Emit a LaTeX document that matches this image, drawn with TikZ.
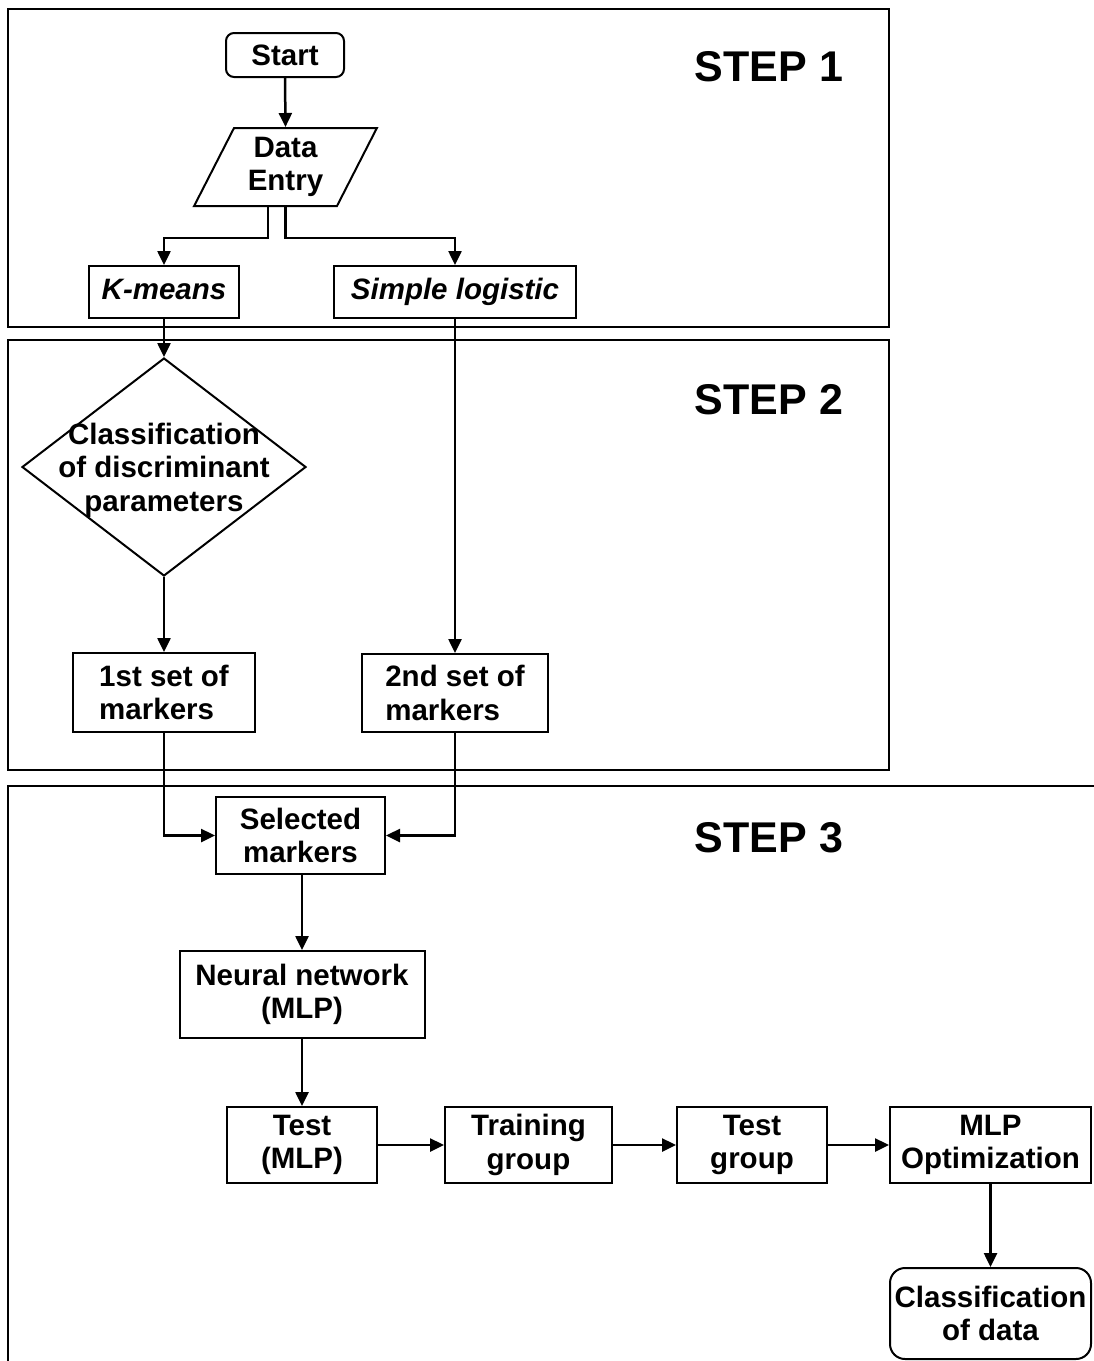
\documentclass[tikz,border=0pt]{standalone}
\usepackage{fontspec}
\setmainfont{Liberation Sans}
\usetikzlibrary{arrows.meta,shapes.geometric}
\tikzset{
  txt/.style={font=\fontsize{29.5}{33.5}\selectfont\bfseries, align=center, inner sep=0pt},
  box/.style={txt, draw, line width=2pt},
  stepbox/.style={draw, line width=2pt},
  steplabel/.style={font=\fontsize{43}{50}\selectfont\bfseries, inner sep=0pt},
  arr/.style={line width=2.5pt, -{Triangle[length=14pt,width=13pt]}},
}
\begin{document}
\begin{tikzpicture}[x=1pt,y=-1pt]
\useasboundingbox (0,0) rectangle (1094,1361);
\clip (0,0) rectangle (1094,1361);
% step frames
\draw[stepbox] (8,9) rectangle (889,327);
\draw[stepbox] (8,340) rectangle (889,770);
\draw[stepbox] (1110,786) -- (8,786) -- (8,1380);
\node[steplabel] (st1) at (769,67) {STEP 1};
\node[steplabel] (st2) at (769,400) {STEP 2};
\node[steplabel] (st3) at (769,838) {STEP 3};
% nodes
\node[box, rounded corners=8, minimum width=118, minimum height=44] (start) at (285,55) {Start};
\node[box, trapezium, trapezium left angle=64, trapezium right angle=116, trapezium stretches=true, minimum width=183, minimum height=78] (de) at (285.5,167) {Data\\Entry};
\node[box, minimum width=150, minimum height=52, text height=22, text depth=7] (km) at (164,292) {\itshape K-means};
\node[box, minimum width=242, minimum height=52, text height=22, text depth=7] (sl) at (455,292) {\itshape Simple logistic};
\node[draw, line width=2pt, diamond, minimum width=284, minimum height=218, inner sep=0pt] (dia) at (164,467) {};
\node[txt] (diat) at (164,470) {Classification\\of discriminant\\parameters};
\node[box, align=left, minimum width=182, minimum height=79] (s1) at (164,692.5) {1st set of\\markers};
\node[box, align=left, minimum width=186, minimum height=78] (s2) at (455,693) {2nd set of\\markers};
\node[box, minimum width=169, minimum height=77] (sel) at (300.5,835.5) {Selected\\markers};
\node[box, minimum width=245, minimum height=87] (nn) at (302,994.5) {Neural network\\(MLP)};
\node[box, minimum width=150, minimum height=76] (test) at (302,1145) {Test\\(MLP)};
\node[box, minimum width=167, minimum height=76] (train) at (528.5,1145) {Training\\group};
\node[box, minimum width=150, minimum height=76] (tg) at (752,1145) {Test\\group};
\node[box, minimum width=201, minimum height=76] (opt) at (990.5,1145) {MLP\\Optimization};
\node[box, rounded corners=15, minimum width=201, minimum height=91] (cls) at (990.5,1313.5) {Classification\\of data};
% connectors
\draw[arr] (start.south) -- (de.north);
\draw[arr] ([xshift=-17.5pt]de.south) -- ++(0,31) -| (km.north);
\draw[arr] (de.south) -- ++(0,31) -| (sl.north);
\draw[arr] (km.south) -- (dia.north);
\draw[arr] (dia.south) -- (s1.north);
\draw[arr] (sl.south) -- (s2.north);
\draw[arr] (s1.south) |- (sel.west);
\draw[arr] (s2.south) |- (sel.east);
\draw[arr] (sel.south -| nn.north) -- (nn.north);
\draw[arr] (nn.south) -- (test.north);
\draw[arr] (test.east) -- (train.west);
\draw[arr] (train.east) -- (tg.west);
\draw[arr] (tg.east) -- (opt.west);
\draw[arr] (opt.south) -- (cls.north);
\end{tikzpicture}
\end{document}
